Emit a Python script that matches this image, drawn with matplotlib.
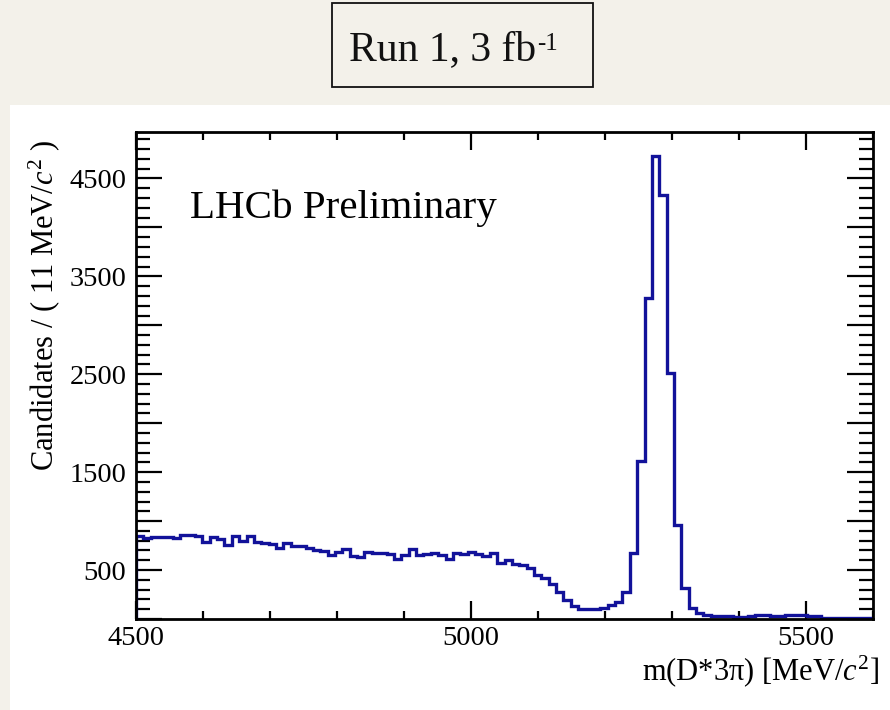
import matplotlib
matplotlib.use('Agg')
import matplotlib.pyplot as plt
import numpy as np
from matplotlib.patches import Rectangle
from matplotlib.text import Annotation
from matplotlib.ticker import FixedLocator, FixedFormatter, MultipleLocator

# ---------------- data ----------------
x_min, x_max, n_bins = 4500, 5600, 100      # 11 MeV bins
counts = [844, 829, 833, 841, 837, 827, 862, 862, 851, 787,
          841, 815, 760, 844, 795, 848, 790, 777, 770, 722,
          773, 746, 743, 722, 705, 698, 651, 682, 712, 641,
          638, 688, 678, 671, 668, 617, 650, 710, 649, 665,
          678, 651, 617, 674, 663, 687, 663, 644, 678, 577,
          603, 561, 551, 526, 450, 419, 358, 278, 189, 129,
          100, 98, 98, 110, 144, 177, 279, 672, 1614, 3278,
          4734, 4331, 2508, 962, 313, 109, 64, 40, 35, 30,
          28, 25, 25, 28, 40, 38, 30, 32, 40, 45,
          42, 35, 30, 15, 12, 10, 10, 8, 8, 8]
x_tick_values = [4500, 5000, 5500]
x_tick_labels = ['4500', '5000', '5500']
y_major_values = [0, 500, 1000, 1500, 2000, 2500, 3000, 3500, 4000, 4500]
y_label_values = [500, 1500, 2500, 3500, 4500]
y_max = 4975

title_text = 'Run 1, 3 fb'
title_sup = '-1'
watermark = 'LHCb Preliminary'
x_title = 'm(D*3\u03c0) [MeV/$c^{2}$]'
y_title = 'Candidates / ( 11 MeV/$c^{2}$ )'

# ---------------- style ----------------
plt.rcParams['font.family'] = ['Liberation Serif', 'DejaVu Serif']
plt.rcParams['mathtext.fontset'] = 'custom'
plt.rcParams['mathtext.rm'] = 'Liberation Serif'
plt.rcParams['mathtext.it'] = 'Liberation Serif:italic'

W, H = 890, 710
fig = plt.figure(figsize=(W / 100, H / 100), dpi=100)
fig.patch.set_facecolor('#f3f1ea')


def fx(px):
    return px / W


def fy(py):
    return 1 - py / H


# white panel
fig.patches.append(Rectangle((fx(10), 0), fx(890) - fx(10), fy(105),
                             transform=fig.transFigure, facecolor='white',
                             edgecolor='none', zorder=-10))
# title box
fig.patches.append(Rectangle((fx(332), fy(87)), fx(593) - fx(332), fy(3) - fy(87),
                             transform=fig.transFigure, fill=False,
                             edgecolor='#111111', lw=1.3, zorder=-5))
t = fig.text(fx(349), fy(60), title_text, fontsize=30, ha='left', va='baseline',
             color='#111111')
sup = Annotation(title_sup, xy=(1.0, 1.0), xycoords=t, xytext=(1.0, -2),
                 textcoords='offset points', fontsize=18, ha='left', va='top',
                 color='#111111')
fig.add_artist(sup)

# axes
ax = fig.add_axes([fx(136), fy(619), fx(873) - fx(136), fy(132) - fy(619)])
ax.set_zorder(5)
ax.set_facecolor('white')
edges = np.linspace(x_min, x_max, n_bins + 1)
ax.stairs(counts, edges, baseline=0, color='#12129a', lw=2.4, zorder=3)
ax.set_xlim(x_min, x_max)
ax.set_ylim(0, y_max)

for s in ax.spines.values():
    s.set_linewidth(2.0)
    s.set_zorder(4)

ax.xaxis.set_major_locator(FixedLocator(x_tick_values))
ax.xaxis.set_major_formatter(FixedFormatter(x_tick_labels))
ax.xaxis.set_minor_locator(MultipleLocator(100))
ax.yaxis.set_major_locator(FixedLocator(y_major_values))
ax.yaxis.set_major_formatter(FixedFormatter(
    [str(v) if v in y_label_values else '' for v in y_major_values]))
ax.yaxis.set_minor_locator(MultipleLocator(100))

ax.tick_params(which='both', direction='in', top=True, right=True,
               colors='black', width=1.6)
ax.tick_params(axis='x', which='major', length=13, labelsize=20.5, pad=5)
ax.tick_params(axis='x', which='minor', length=6)
ax.tick_params(axis='y', which='major', length=19, labelsize=20.5, pad=7)
ax.tick_params(axis='y', which='minor', length=10)

# texts
fig.text(fx(190), fy(218), watermark, fontsize=29.5, ha='left', va='baseline',
         zorder=10)
fig.text(fx(879), fy(680), x_title, fontsize=22, ha='right', va='baseline',
         zorder=10)
fig.text(fx(53), fy(140), y_title, fontsize=22, rotation=90,
         rotation_mode='anchor', ha='right', va='baseline', zorder=10)

fig.savefig('out.png', dpi=100, facecolor=fig.get_facecolor())
